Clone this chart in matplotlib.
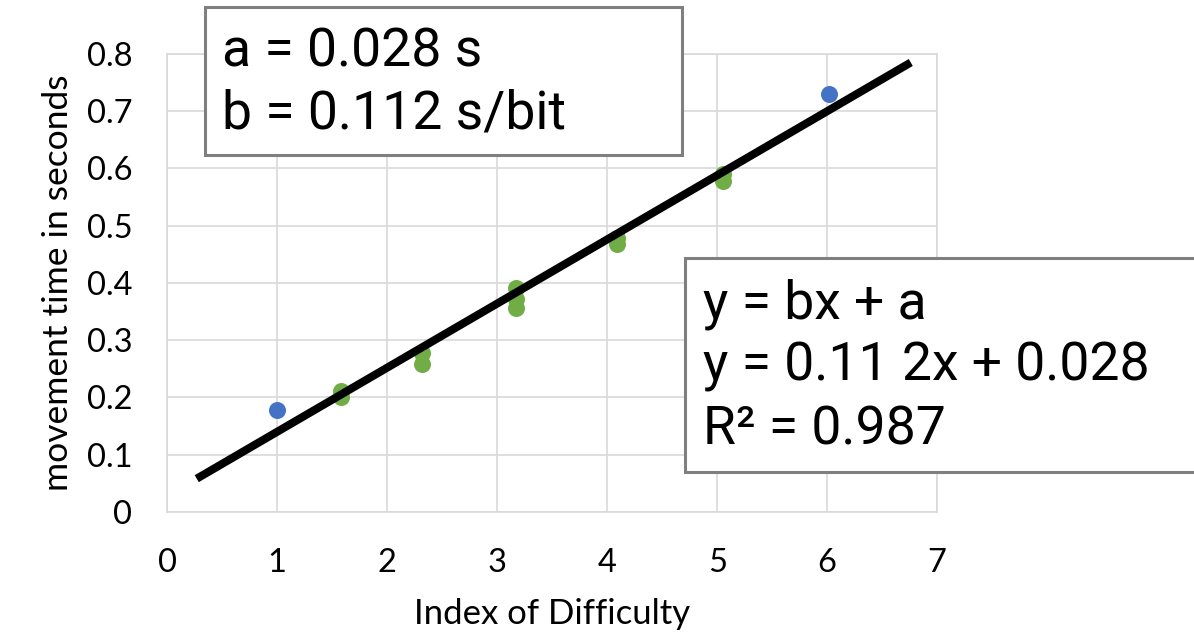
import matplotlib.pyplot as plt
from matplotlib.patches import Rectangle

# end conditions (blue) and the intermediate conditions (green)
id_blue = [1.0, 6.02]
mt_blue = [0.178, 0.730]
id_green = [1.58, 1.58, 2.32, 2.32, 3.17, 3.17, 3.17, 4.09, 4.09, 5.05, 5.05]
mt_green = [0.212, 0.200, 0.278, 0.259, 0.391, 0.372, 0.357, 0.478, 0.468, 0.591, 0.579]

# regression y = b*x + a
a = 0.028
b = 0.112
r2 = 0.987
fit_x = [0.27, 6.76]

x_ticks = [0, 1, 2, 3, 4, 5, 6, 7]
y_ticks = [0, 0.1, 0.2, 0.3, 0.4, 0.5, 0.6, 0.7, 0.8]
y_ticklabels = ['0', '0.1', '0.2', '0.3', '0.4', '0.5', '0.6', '0.7', '0.8']

fig = plt.figure(figsize=(11.94, 6.35), dpi=100)
ax = fig.add_axes([0.1399, 0.1937, 0.645, 0.7213])

ax.set_xlim(0, 7)
ax.set_ylim(0, 0.8)
ax.set_xticks(x_ticks)
ax.set_yticks(y_ticks)
ax.set_yticklabels(y_ticklabels)
ax.grid(True, color='#d9d9d9', linewidth=1.2)
ax.set_axisbelow(True)
for s in ax.spines.values():
    s.set_color('#d9d9d9')
    s.set_linewidth(1.2)
ax.tick_params(length=0, labelsize=23.5)
ax.tick_params(axis='x', pad=26)
ax.tick_params(axis='y', pad=25)
for lab in ax.get_xticklabels() + ax.get_yticklabels():
    lab.set_fontfamily('Lato')

ax.scatter(id_blue, mt_blue, s=150, color='#4472c4', zorder=3, linewidths=0)
ax.scatter(id_green, mt_green, s=150, color='#70ad47', zorder=3, linewidths=0)
fit_y = [b * x + a for x in fit_x]
ax.plot(fit_x, fit_y, color='black', linewidth=5.8, zorder=4, solid_capstyle='butt')

ax.set_xlabel('Index of Difficulty', fontsize=25, family='Lato', labelpad=14)
ax.set_ylabel('movement time in seconds', fontsize=25.5, family='Lato', labelpad=9)

# parameter boxes
fig.patches.append(Rectangle((0.1717, 0.7559), 0.3995, 0.2331, transform=fig.transFigure,
                             facecolor='white', edgecolor='#7f7f7f', linewidth=2.2, zorder=5))
fig.text(222 / 1194, 1 - 52 / 635, 'a = %.3f s' % a, fontsize=38.5, family='Roboto',
         va='center', ha='left', zorder=6)
fig.text(222 / 1194, 1 - 114 / 635, 'b = %.3f s/bit' % b, fontsize=38.5, family='Roboto',
         va='center', ha='left', zorder=6)

fig.patches.append(Rectangle((0.5737, 0.2567), 0.45, 0.337, transform=fig.transFigure,
                             facecolor='white', edgecolor='#7f7f7f', linewidth=2.2, zorder=5))
eq_lines = ['y = bx + a', 'y = 0.11 2x + %.3f' % a, 'R\u00b2 = %.3f' % r2]
for i, line in enumerate(eq_lines):
    fig.text(703 / 1194, 1 - (304 + 63 * i) / 635, line, fontsize=38.5, family='Roboto',
             va='center', ha='left', zorder=6)

fig.savefig('out.png', dpi=100)
